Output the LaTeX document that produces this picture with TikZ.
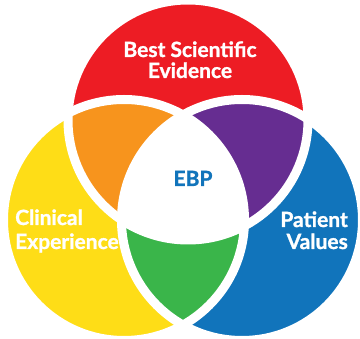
\documentclass[tikz,border=0pt]{standalone}
\usepackage{fontspec}
\setmainfont{Lato}[BoldFeatures={FakeBold=1.2}]
\definecolor{cred}{HTML}{ED1C24}
\definecolor{cyellow}{HTML}{FEDD17}
\definecolor{cblue}{HTML}{1174BB}
\definecolor{corange}{HTML}{F7941D}
\definecolor{cpurple}{HTML}{662D91}
\definecolor{cgreen}{HTML}{3AB54A}
\tikzset{
  lbl/.style={text=white, font=\bfseries\fontsize{21}{21}\selectfont, inner sep=0pt},
  gap/.style={draw=white, line width=9pt}
}
\begin{document}
\begin{tikzpicture}[x=1pt,y=-1pt]
\useasboundingbox (0,0) rectangle (360,339);
\coordinate (R) at (188,120);
\coordinate (Y) at (124,220);
\coordinate (B) at (242,220);
\def\rR{120}
\def\rY{120.5}
\def\rB{120.5}
\fill[cred] (R) circle (\rR);
\fill[cyellow] (Y) circle (\rY);
\fill[cblue] (B) circle (\rB);
\begin{scope}
  \clip (R) circle (\rR);
  \fill[corange] (Y) circle (\rY);
\end{scope}
\begin{scope}
  \clip (R) circle (\rR);
  \fill[cpurple] (B) circle (\rB);
\end{scope}
\begin{scope}
  \clip (Y) circle (\rY);
  \fill[cgreen] (B) circle (\rB);
\end{scope}
\begin{scope}
  \clip (R) circle (\rR);
  \clip (Y) circle (\rY);
  \fill[white] (B) circle (\rB);
\end{scope}
\draw[gap] (R) circle (\rR);
\draw[gap] (Y) circle (\rY);
\draw[gap] (B) circle (\rB);
\node[lbl, anchor=base] (t1) at (190,57) {Best Scientific};
\node[lbl, anchor=base] (t2) at (190,78) {Evidence};
\node[lbl, anchor=base west] (t3) at (15,225) {Clinical};
\node[lbl, anchor=base west] (t4) at (15,249) {Experience};
\node[lbl, anchor=base east] (t5) at (348,227) {Patient};
\node[lbl, anchor=base east] (t6) at (348,249) {Values};
\node[lbl, anchor=base, text=cblue] (t7) at (193,186) {EBP};
\end{tikzpicture}
\end{document}
